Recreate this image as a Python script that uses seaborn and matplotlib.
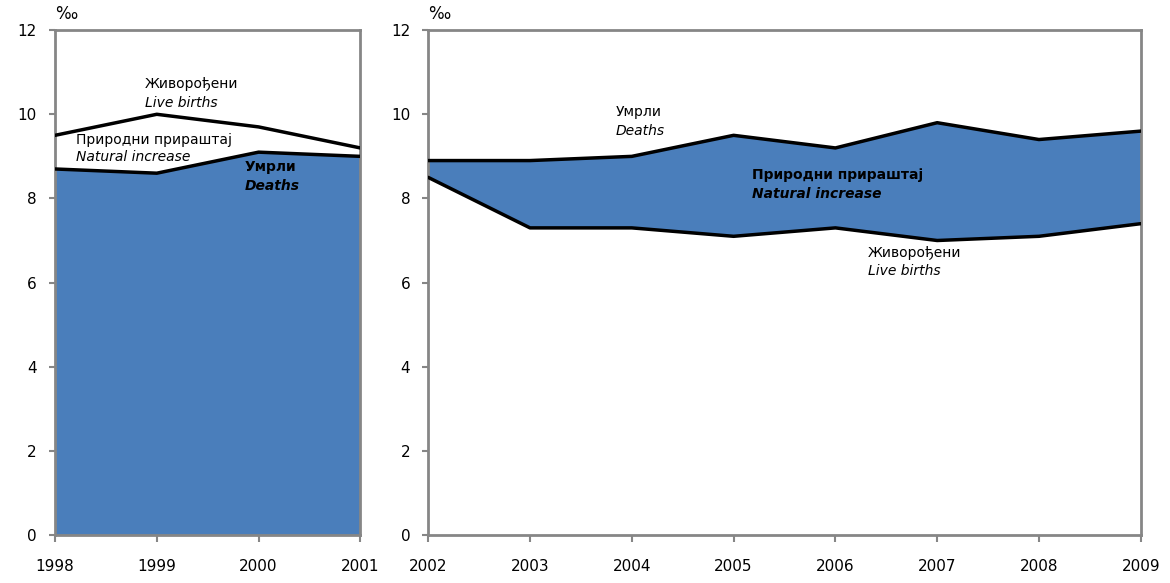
import matplotlib
matplotlib.use("Agg")
import matplotlib.pyplot as plt
import seaborn as sns
import pandas as pd

# data (per mille)
years_a = [1998, 1999, 2000, 2001]
births_a = [9.5, 10.0, 9.7, 9.2]
deaths_a = [8.7, 8.6, 9.1, 9.0]

years_b = [2002, 2003, 2004, 2005, 2006, 2007, 2008, 2009]
births_b = [8.5, 7.3, 7.3, 7.1, 7.3, 7.0, 7.1, 7.4]
deaths_b = [8.9, 8.9, 9.0, 9.5, 9.2, 9.8, 9.4, 9.6]

y_ticks = [0, 2, 4, 6, 8, 10, 12]
unit = "‰"

FILL = "#4a7ebb"
SPINE = "#868686"

sns.set_theme(style="white")
plt.rcParams["font.family"] = ["DejaVu Sans"]
plt.rcParams["text.color"] = "black"

fig = plt.figure(figsize=(11.7, 5.83), dpi=100)
ax1 = fig.add_axes([0.047, 0.0823, 0.261, 0.866])
ax2 = fig.add_axes([0.366, 0.0823, 0.609, 0.866])

df_a = pd.DataFrame({"year": years_a, "births": births_a, "deaths": deaths_a})
df_b = pd.DataFrame({"year": years_b, "births": births_b, "deaths": deaths_b})

# left panel: natural increase (white between lines), deaths filled down to 0
ax1.fill_between(df_a["year"], 0, df_a["deaths"], color=FILL, lw=0, zorder=1)
sns.lineplot(data=df_a, x="year", y="births", color="black", lw=2.5, ax=ax1, zorder=3)
sns.lineplot(data=df_a, x="year", y="deaths", color="black", lw=2.5, ax=ax1, zorder=3)

# right panel: natural decrease filled between births and deaths
ax2.fill_between(df_b["year"], df_b["births"], df_b["deaths"], color=FILL, lw=0, zorder=1)
sns.lineplot(data=df_b, x="year", y="births", color="black", lw=2.5, ax=ax2, zorder=3)
sns.lineplot(data=df_b, x="year", y="deaths", color="black", lw=2.5, ax=ax2, zorder=3)

for ax, yrs in [(ax1, years_a), (ax2, years_b)]:
    ax.set_xlim(yrs[0], yrs[-1])
    ax.set_ylim(0, 12)
    ax.set_xticks(yrs)
    ax.set_xticklabels([str(y) for y in yrs])
    ax.set_yticks(y_ticks)
    ax.set_xlabel("")
    ax.set_ylabel("")
    for s in ax.spines.values():
        s.set_visible(True)
        s.set_color(SPINE)
        s.set_linewidth(2)
    ax.tick_params(axis="x", bottom=True, direction="out", length=5, width=1.5,
                   color=SPINE, pad=12, labelsize=11, labelcolor="black")
    ax.tick_params(axis="y", left=True, direction="out", length=4, width=1.5,
                   color=SPINE, pad=9, labelsize=11, labelcolor="black")
    ax.text(0.0, 1.014, unit, transform=ax.transAxes, fontsize=12, ha="left", va="bottom")

fs = 10
ax1.text(1998.88, 10.71, "Живорођени", fontsize=fs, va="center")
ax1.text(1998.88, 10.26, "Live births", fontsize=fs, style="italic", va="center")
ax1.text(1998.21, 9.40, "Природни прираштај", fontsize=fs, va="center")
ax1.text(1998.21, 8.98, "Natural increase", fontsize=fs, style="italic", va="center")
ax1.text(1999.86, 8.74, "Умрли", fontsize=fs, weight="bold", va="center")
ax1.text(1999.86, 8.29, "Deaths", fontsize=fs, weight="bold", style="italic", va="center")

ax2.text(2003.84, 10.05, "Умрли", fontsize=fs, va="center")
ax2.text(2003.84, 9.60, "Deaths", fontsize=fs, style="italic", va="center")
ax2.text(2005.18, 8.55, "Природни прираштај", fontsize=fs, weight="bold", va="center")
ax2.text(2005.18, 8.10, "Natural increase", fontsize=fs, weight="bold", style="italic", va="center")
ax2.text(2006.32, 6.71, "Живорођени", fontsize=fs, va="center")
ax2.text(2006.32, 6.28, "Live births", fontsize=fs, style="italic", va="center")

fig.savefig("out.png", dpi=100)
